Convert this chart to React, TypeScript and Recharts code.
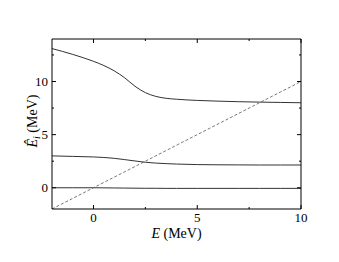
import React from "react";
import { LineChart, Line, XAxis, YAxis } from "recharts";

// energy grid E (MeV)
const energies = [-2, -1, 0, 0.5, 1, 1.5, 2, 2.5, 3, 3.5, 4, 5, 6, 7, 8, 9, 10];
const upperLevel = [13.1, 12.55, 11.9, 11.5, 11.0, 10.35, 9.55, 8.95, 8.6, 8.42, 8.33, 8.22, 8.15, 8.1, 8.06, 8.03, 8.0];
const middleLevel = [3.0, 2.95, 2.9, 2.85, 2.77, 2.65, 2.52, 2.4, 2.32, 2.27, 2.23, 2.18, 2.16, 2.15, 2.14, 2.14, 2.14];
const lowerLevel = [0, 0, 0, -0.01, -0.02, -0.03, -0.04, -0.05, -0.05, -0.06, -0.06, -0.06, -0.06, -0.06, -0.06, -0.06, -0.06];

const xTicks = [0, 2.5, 5, 7.5, 10];
const yTicks = [0, 2.5, 5, 7.5, 10, 12.5];
const majorX = [0, 5, 10];
const majorY = [0, 5, 10];

const data = energies.map((e, i) => ({
	e,
	upper: upperLevel[i],
	middle: middleLevel[i],
	lower: lowerLevel[i],
	diag: e,
}));

const FONT = '"Liberation Serif", "DejaVu Serif", serif';

function tickLen(v: number, majors: number[]) {
	return majors.includes(v) ? 4 : 2;
}

const BottomTick = (props: any) => {
	const { x, y, payload } = props;
	const v = payload.value;
	const major = majorX.includes(v);
	return (
		<g>
			<line x1={x} y1={y} x2={x} y2={y - tickLen(v, majorX)} stroke="#000" />
			{major && (
				<text x={x} y={y + 13} textAnchor="middle" fontFamily={FONT} fontSize={13} fill="#000">
					{v}
				</text>
			)}
		</g>
	);
};

const TopTick = (props: any) => {
	const { x, y, payload } = props;
	return <line x1={x} y1={y} x2={x} y2={y + tickLen(payload.value, majorX)} stroke="#000" />;
};

const LeftTick = (props: any) => {
	const { x, y, payload } = props;
	const v = payload.value;
	const major = majorY.includes(v);
	return (
		<g>
			<line x1={x} y1={y} x2={x + tickLen(v, majorY)} y2={y} stroke="#000" />
			{major && (
				<text x={x - 4} y={y + 4.5} textAnchor="end" fontFamily={FONT} fontSize={13} fill="#000">
					{v}
				</text>
			)}
		</g>
	);
};

const RightTick = (props: any) => {
	const { x, y, payload } = props;
	return <line x1={x} y1={y} x2={x - tickLen(payload.value, majorY)} y2={y} stroke="#000" />;
};

export default function App() {
	return (
		<div style={{ position: "relative", width: 323, height: 246, fontFamily: FONT }}>
			<LineChart width={323} height={246} data={data} margin={{ top: 30, right: 29, bottom: 0, left: 0 }}>
				<XAxis
					dataKey="e"
					type="number"
					domain={[-2, 10]}
					ticks={xTicks}
					tickSize={0}
					tickMargin={0}
					tick={<BottomTick />}
					axisLine={{ stroke: "#000" }}
					height={45}
					allowDataOverflow
				/>
				<XAxis
					xAxisId="top"
					orientation="top"
					dataKey="e"
					type="number"
					domain={[-2, 10]}
					ticks={xTicks}
					tickSize={0}
					tickMargin={0}
					tick={<TopTick />}
					axisLine={{ stroke: "#000" }}
					height={1}
					allowDataOverflow
				/>
				<YAxis
					type="number"
					domain={[-2, 14]}
					ticks={yTicks}
					tickSize={0}
					tickMargin={0}
					tick={<LeftTick />}
					axisLine={{ stroke: "#000" }}
					width={44}
					allowDataOverflow
				/>
				<YAxis
					yAxisId="right"
					orientation="right"
					type="number"
					domain={[-2, 14]}
					ticks={yTicks}
					tickSize={0}
					tickMargin={0}
					tick={<RightTick />}
					axisLine={{ stroke: "#000" }}
					width={1}
					allowDataOverflow
				/>
				<Line dataKey="upper" type="monotone" stroke="#333" strokeWidth={1} dot={false} isAnimationActive={false} />
				<Line dataKey="middle" type="monotone" stroke="#333" strokeWidth={1} dot={false} isAnimationActive={false} />
				<Line dataKey="lower" type="monotone" stroke="#333" strokeWidth={1} dot={false} isAnimationActive={false} />
				<Line
					dataKey="diag"
					xAxisId="top"
					yAxisId="right"
					type="linear"
					stroke="#555"
					strokeWidth={0.8}
					strokeDasharray="3 2"
					dot={false}
					isAnimationActive={false}
				/>
			</LineChart>
			<svg width={323} height={246} style={{ position: "absolute", left: 0, top: 0, pointerEvents: "none" }}>
				<text x={168.5} y={230} textAnchor="middle" fontFamily={FONT} fontSize={14} fill="#000">
					<tspan fontStyle="italic">E</tspan>
					<tspan> (MeV)</tspan>
				</text>
				<text transform="translate(29, 113) rotate(-90)" textAnchor="middle" fontFamily={FONT} fontSize={14} fill="#000">
					<tspan fontStyle="italic">{"E\u0302"}</tspan>
					<tspan fontStyle="italic" fontSize={10} dy={3}>i</tspan>
					<tspan dy={-3}> (MeV)</tspan>
				</text>
			</svg>
		</div>
	);
}
